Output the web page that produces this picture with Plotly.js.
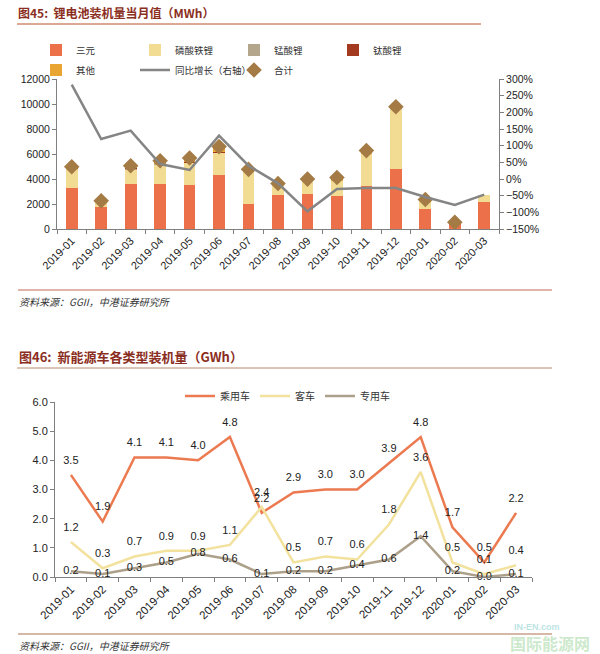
<!DOCTYPE html>
<html>
<head>
<meta charset="utf-8">
<script src="https://cdn.plot.ly/plotly-3.0.1.min.js"></script>
<style>html,body{margin:0;padding:0;background:#fff;}#chart{width:600px;height:654px;}</style>
</head>
<body>
<div id="chart"></div>
<script>
// ---------- Chart 1 data (MWh) ----------
const months = ["2019-01","2019-02","2019-03","2019-04","2019-05","2019-06","2019-07","2019-08","2019-09","2019-10","2019-11","2019-12","2020-01","2020-02","2020-03"];
const ternary = [3320,1770,3640,3640,3500,4310,1980,2760,2840,2680,3480,4800,1580,380,2200];
const lfp     = [1450,320,1070,1480,1750,1740,2730,740,1020,1150,2490,4790,780,120,560];
const lmo     = [60,40,80,60,60,40,20,30,20,30,40,60,0,0,0];
const lto     = [40,30,70,30,30,60,0,0,20,0,30,0,0,0,0];
const other   = [110,90,200,250,340,440,40,110,90,260,230,130,0,40,0];
const total   = [4980,2250,5060,5460,5680,6590,4770,3640,3990,4120,6270,9780,2360,540,null];
const yoy     = [283,120,145,45,27,130,40,-13,-97,-30,-27,-27,-54,-78,-47];

// ---------- Chart 2 data (GWh) ----------
const passenger = [3.5,1.9,4.1,4.1,4.0,4.8,2.2,2.9,3.0,3.0,3.9,4.8,1.7,0.5,2.2];
const bus       = [1.2,0.3,0.7,0.9,0.9,1.1,2.4,0.5,0.7,0.6,1.8,3.6,0.5,0.1,0.4];
const special   = [0.2,0.1,0.3,0.5,0.8,0.6,0.1,0.2,0.2,0.4,0.6,1.4,0.2,0.0,0.1];

const W = 600, H = 654;
const px = v => v / W;
const py = v => 1 - v / H;
const cjk = '"Noto Sans CJK SC", "Liberation Sans", sans-serif';
const num = '"Liberation Sans", Arial, sans-serif';
const clear = 'rgba(0,0,0,0)';

const traces = [
  {type:'bar', name:'三元', x:months, y:ternary, marker:{color:'#EC7049'}, xaxis:'x', yaxis:'y', legend:'legend'},
  {type:'bar', name:'磷酸铁锂', x:months, y:lfp, marker:{color:'#F2DC94'}, xaxis:'x', yaxis:'y', legend:'legend'},
  {type:'bar', name:'锰酸锂', x:months, y:lmo, marker:{color:'#B3A68A'}, xaxis:'x', yaxis:'y', legend:'legend'},
  {type:'bar', name:'钛酸锂', x:months, y:lto, marker:{color:'#A33A1F'}, xaxis:'x', yaxis:'y', legend:'legend'},
  {type:'bar', name:'其他', x:months, y:other, marker:{color:'#E9A531'}, xaxis:'x', yaxis:'y', legend:'legend2'},
  {type:'scatter', mode:'lines', name:'同比增长（右轴）', x:months, y:yoy, line:{color:'#858585', width:2.5}, xaxis:'x', yaxis:'y2', legend:'legend2'},
  {type:'scatter', mode:'markers', name:'合计', x:months, y:total, marker:{symbol:'diamond', size:12, color:'#A47A45'}, xaxis:'x', yaxis:'y', legend:'legend2'},

  {type:'scatter', mode:'lines+markers+text', name:'乘用车', x:months, y:passenger, line:{color:'#EC7A50', width:2.5},
   marker:{size:12, color:clear, line:{width:0}}, texttemplate:'%{y:.1f}', textposition:'top center', textfont:{family:num, size:11, color:'#222'},
   cliponaxis:false, xaxis:'x2', yaxis:'y3', legend:'legend3'},
  {type:'scatter', mode:'lines+markers+text', name:'客车', x:months, y:bus, line:{color:'#F2E29E', width:2.5},
   marker:{size:12, color:clear, line:{width:0}}, texttemplate:'%{y:.1f}', textposition:'top center', textfont:{family:num, size:11, color:'#222'},
   cliponaxis:false, xaxis:'x2', yaxis:'y3', legend:'legend3'},
  {type:'scatter', mode:'lines+text', name:'专用车', x:months, y:special, line:{color:'#ADA08A', width:2.5},
   texttemplate:'%{y:.1f}', textposition:'middle center', textfont:{family:num, size:11, color:'#222'},
   cliponaxis:false, xaxis:'x2', yaxis:'y3', legend:'legend3'}
];

const axisCommon = {showgrid:false, zeroline:false, showline:true, linecolor:'#7f7f7f', linewidth:1,
  ticks:'outside', ticklen:4, tickcolor:'#7f7f7f', tickfont:{family:num, size:10.5, color:'#222'}};

const legendCommon = {orientation:'h', bgcolor:'rgba(0,0,0,0)', borderwidth:0, xanchor:'left', yanchor:'middle',
  font:{family:cjk, size:9.5, color:'#333'}, traceorder:'normal'};

const layout = {
  width:W, height:H, margin:{l:0,r:0,t:0,b:0}, paper_bgcolor:'#fff', plot_bgcolor:'rgba(0,0,0,0)',
  barmode:'stack', bargap:0.6, showlegend:true,
  xaxis:Object.assign({}, axisCommon, {domain:[px(57), px(499)], anchor:'y', type:'category', tickangle:-45,
    tickson:'boundaries', tickfont:{family:num, size:11, color:'#222'}, range:[-0.5,14.5]}),
  yaxis:Object.assign({}, axisCommon, {domain:[py(229), py(79)], anchor:'x', range:[0,12000], dtick:2000, tickformat:'d'}),
  yaxis2:Object.assign({}, axisCommon, {overlaying:'y', side:'right', anchor:'x', range:[-150,300], dtick:50, ticksuffix:'%'}),
  xaxis2:Object.assign({}, axisCommon, {domain:[px(55), px(532)], anchor:'y3', type:'category', tickangle:-45,
    tickson:'boundaries', tickfont:{family:num, size:11.5, color:'#222'}, range:[-0.5,14.5]}),
  yaxis3:Object.assign({}, axisCommon, {domain:[py(577), py(402)], anchor:'x2', range:[0,6], dtick:1, tickformat:'.1f',
    tickfont:{family:num, size:11, color:'#222'}}),
  legend:Object.assign({}, legendCommon, {x:px(36), y:py(50), entrywidth:54}),
  legend2:Object.assign({}, legendCommon, {x:px(36), y:py(70), entrywidth:54}),
  legend3:Object.assign({}, legendCommon, {x:px(180), y:py(396), font:{family:cjk, size:10, color:'#333'}}),
  shapes:[
    {type:'line', xref:'paper', yref:'paper', x0:px(17), x1:px(481), y0:py(24), y1:py(24), line:{color:'#B9532F', width:1}},
    {type:'line', xref:'paper', yref:'paper', x0:px(18), x1:px(552), y0:py(290), y1:py(290), line:{color:'#C46A55', width:1}},
    {type:'line', xref:'paper', yref:'paper', x0:px(17), x1:px(552), y0:py(368), y1:py(368), line:{color:'#B88A6E', width:1}},
    {type:'line', xref:'paper', yref:'paper', x0:px(18), x1:px(552), y0:py(634), y1:py(634), line:{color:'#C9A08A', width:1.5}}
  ],
  annotations:[
    {xref:'paper', yref:'paper', x:px(16), y:py(13), xanchor:'left', yanchor:'middle', showarrow:false,
     text:'<b>图45:  锂电池装机量当月值（MWh）</b>', font:{family:cjk, size:12, color:'#8B2E22'}},
    {xref:'paper', yref:'paper', x:px(17), y:py(357), xanchor:'left', yanchor:'middle', showarrow:false,
     text:'<b>图46:  新能源车各类型装机量（GWh）</b>', font:{family:cjk, size:13, color:'#8B2E22'}},
    {xref:'paper', yref:'paper', x:px(17), y:py(301), xanchor:'left', yanchor:'middle', showarrow:false,
     text:'<i>资料来源：GGII，中港证券研究所</i>', font:{family:cjk, size:10, color:'#333'}},
    {xref:'paper', yref:'paper', x:px(17), y:py(645), xanchor:'left', yanchor:'middle', showarrow:false,
     text:'<i>资料来源：GGII，中港证券研究所</i>', font:{family:cjk, size:10, color:'#333'}},
    {xref:'paper', yref:'paper', x:px(512), y:py(627), xanchor:'left', yanchor:'middle', showarrow:false,
     text:'<b>IN-EN.com</b>', font:{family:num, size:9, color:'rgba(120,200,200,0.5)'}},
    {xref:'paper', yref:'paper', x:px(508), y:py(643), xanchor:'left', yanchor:'middle', showarrow:false,
     text:'<b>国际能源网</b>', font:{family:cjk, size:16, color:'rgba(140,205,140,0.45)'}}
  ]
};

Plotly.newPlot('chart', traces, layout, {displayModeBar:false, staticPlot:true});
</script>
</body>
</html>
